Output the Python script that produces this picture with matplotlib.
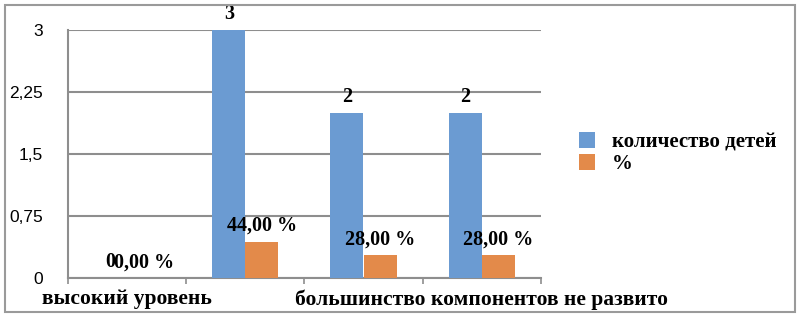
import matplotlib.pyplot as plt
import numpy as np

# ---- data ----
CATEGORIES = ["высокий уровень", "", "", "большинство компонентов не развито"]
CHILDREN = [0, 3, 2, 2]
PERCENT = [0.0, 0.44, 0.28, 0.28]
SERIES_NAMES = ["количество детей", "%"]
Y_TICKS = [0, 0.75, 1.5, 2.25, 3]
Y_TICK_LABELS = ["0", "0,75", "1,5", "2,25", "3"]

BLUE = "#6b9bd2"
ORANGE = "#e38a4a"
GRID = "#8e8e8e"
SERIF = "Liberation Serif"

fig = plt.figure(figsize=(8, 3.19), dpi=100)
ax = fig.add_axes([0.085, 0.1285, 0.591, 0.7775])

x = np.arange(len(CATEGORIES))
w = 0.28
b1 = ax.bar(x - w / 2, CHILDREN, w, color=BLUE, label=SERIES_NAMES[0], zorder=3)
b2 = ax.bar(x + w / 2, PERCENT, w, color=ORANGE, label=SERIES_NAMES[1], zorder=3)

# data labels
for xi, v in zip(x, CHILDREN):
    ax.annotate(f"{v}", (xi - w / 2, v), xytext=(0, 4), textcoords="offset points",
                ha="center", va="bottom", family=SERIF, fontweight="bold", fontsize=14.5)
for xi, v in zip(x, PERCENT):
    txt = f"{v * 100:.2f}".replace(".", ",") + " %"
    ax.annotate(txt, (xi + w / 2, v), xytext=(0, 4), textcoords="offset points",
                ha="center", va="bottom", family=SERIF, fontweight="bold", fontsize=14.5)

ax.set_xlim(-0.5, len(CATEGORIES) - 0.5)
ax.set_ylim(0, 3)
ax.set_yticks(Y_TICKS)
ax.set_yticklabels(Y_TICK_LABELS, fontsize=12.5, family="Liberation Sans")
ax.tick_params(axis="y", length=0, pad=18)
ax.yaxis.grid(True, color=GRID, linewidth=1.5, zorder=0)

ax.set_xticks(x)
ax.set_xticklabels(CATEGORIES, family=SERIF, fontweight="bold", fontsize=15.5)
ax.set_xticks(np.arange(-0.5, len(CATEGORIES)), minor=True)
ax.tick_params(axis="x", which="major", length=0, pad=8)
ax.tick_params(axis="x", which="minor", length=4, color=GRID, width=1.2)

for s in ["top", "right"]:
    ax.spines[s].set_visible(False)
for s in ["left", "bottom"]:
    ax.spines[s].set_color(GRID)
    ax.spines[s].set_linewidth(1.5)

leg = fig.legend(handles=[b1, b2], loc="center left", bbox_to_anchor=(0.70, 0.52),
                 frameon=False, prop={"family": SERIF, "weight": "bold", "size": 15},
                 handlelength=0.8, handleheight=0.8, labelspacing=0.1, handletextpad=0.8)

# outer border
fig.patches.append(plt.Rectangle((0.006, 0.022), 0.988, 0.962, transform=fig.transFigure,
                                 fill=False, edgecolor="#9a9a9a", linewidth=1.5))

fig.savefig("out.png", dpi=100)
